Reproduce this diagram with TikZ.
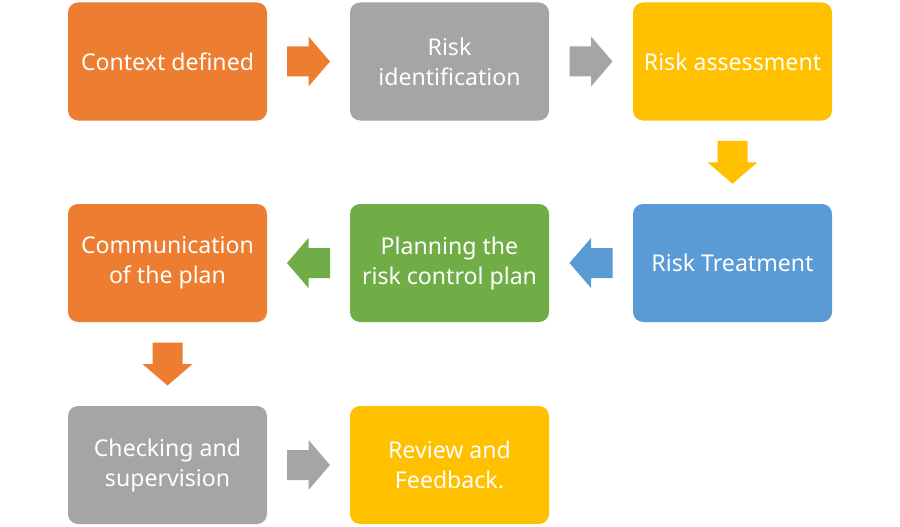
\documentclass[tikz,border=0pt]{standalone}
\usepackage{fontspec}
\setmainfont{Noto Sans}
\usetikzlibrary{calc}
\definecolor{cOrange}{HTML}{ED7D31}
\definecolor{cGray}{HTML}{A5A5A5}
\definecolor{cYellow}{HTML}{FFC000}
\definecolor{cBlue}{HTML}{5B9BD5}
\definecolor{cGreen}{HTML}{70AD47}
\begin{document}
\begin{tikzpicture}[x=1pt,y=-1pt,
  stepbox/.style={draw=none, fill=#1, rounded corners=10pt, minimum width=199pt, minimum height=118pt,
    inner sep=0pt, text=white, align=center, font=\fontsize{23.1}{30}\selectfont},
  barrow/.pic={\fill[#1] (-21.5,-15) -- (0,-15) -- (0,-25) -- (21.5,0) -- (0,25) -- (0,15) -- (-21.5,15) -- cycle;}
]
\useasboundingbox (0,0) rectangle (900,527);
\node[stepbox=cOrange] (n1) at (167.5,61.5) {Context defined};
\node[stepbox=cGray]   (n2) at (449.5,61.5) {Risk\\identification};
\node[stepbox=cYellow] (n3) at (732.5,61.5) {Risk assessment};
\node[stepbox=cBlue]   (n4) at (732.5,263) {Risk Treatment};
\node[stepbox=cGreen]  (n5) at (449.5,263) {Planning the\\risk control plan};
\node[stepbox=cOrange] (n6) at (167.5,263) {Communication\\of the plan};
\node[stepbox=cGray]   (n7) at (167.5,465) {Checking and\\supervision};
\node[stepbox=cYellow] (n8) at (449.5,465) {Review and\\Feedback.};
\path ($(n1.east)!0.5!(n2.west)$) pic {barrow=cOrange};
\path ($(n2.east)!0.5!(n3.west)$) pic {barrow=cGray};
\path ($(n3.south)!0.5!(n4.north)$) pic[rotate=-90] {barrow=cYellow};
\path ($(n4.west)!0.5!(n5.east)$) pic[rotate=180] {barrow=cBlue};
\path ($(n5.west)!0.5!(n6.east)$) pic[rotate=180] {barrow=cGreen};
\path ($(n6.south)!0.5!(n7.north)$) pic[rotate=-90] {barrow=cOrange};
\path ($(n7.east)!0.5!(n8.west)$) pic {barrow=cGray};
\end{tikzpicture}
\end{document}
